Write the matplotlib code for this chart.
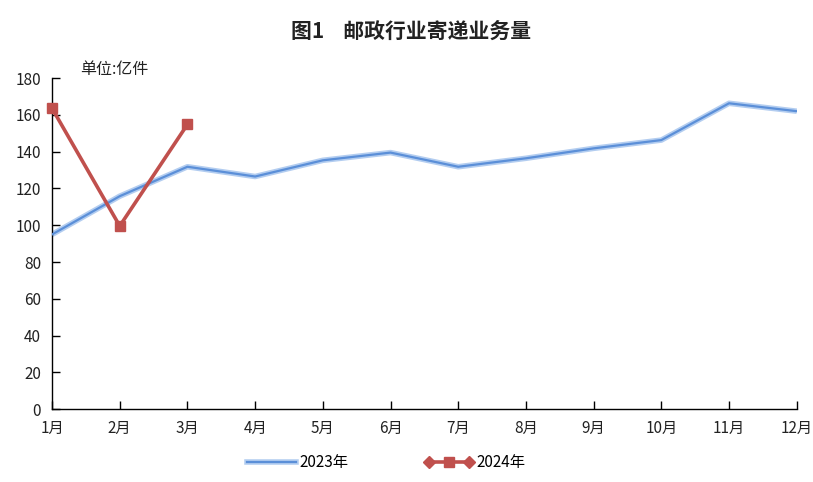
import matplotlib.pyplot as plt
from matplotlib.lines import Line2D
from matplotlib.legend_handler import HandlerLine2D, HandlerTuple

plt.rcParams['font.family'] = ['Noto Sans CJK SC', 'DejaVu Sans']

# 数据
months = ['1月', '2月', '3月', '4月', '5月', '6月', '7月', '8月', '9月', '10月', '11月', '12月']
vol_2023 = [95.0, 115.8, 131.8, 126.5, 135.3, 139.5, 131.8, 136.4, 141.8, 146.3, 166.3, 162.0]
vol_2024 = [163.6, 99.6, 154.8]
y_ticks = [0, 20, 40, 60, 80, 100, 120, 140, 160, 180]

fig = plt.figure(figsize=(8.13, 4.82), dpi=100)
ax = fig.add_axes([0.064, 0.151, 0.916, 0.687])

x = list(range(len(months)))
# 2023年 线条（浅色外沿 + 蓝色中线）
ax.plot(x, vol_2023, color='#b3cdf0', lw=4, solid_capstyle='butt', zorder=2)
ax.plot(x, vol_2023, color='#5b8fd8', lw=1.6, zorder=3)
# 2024年 线条
ax.plot(x[:len(vol_2024)], vol_2024, color='#c0504d', lw=2.6, marker='s',
        markersize=7, zorder=4, clip_on=False)

ax.set_xlim(0, len(months) - 1)
ax.set_ylim(0, 180)
ax.set_xticks(x)
ax.set_xticklabels(months)
ax.set_yticks(y_ticks)
ax.tick_params(direction='in', length=6, width=1, color='black', labelsize=11,
               labelcolor='#222222', pad=8)
ax.spines['top'].set_visible(False)
ax.spines['right'].set_visible(False)
for s in ['left', 'bottom']:
    ax.spines[s].set_color('black')
    ax.spines[s].set_linewidth(1)

fig.text(0.505, 0.935, '图1    邮政行业寄递业务量', ha='center', va='center',
         fontsize=15, fontweight='bold', color='#222222')
fig.text(0.098, 0.855, '单位:亿件', ha='left', va='center', fontsize=11.5, color='#222222')

# 图例
h23_a = Line2D([], [], color='#b3cdf0', lw=4)
h23_b = Line2D([], [], color='#5b8fd8', lw=1.6)
h24_line = Line2D([], [], color='#c0504d', lw=2.6, marker='D', markersize=6)
h24_sq = Line2D([], [], color='#c0504d', lw=0, marker='s', markersize=7)
leg = fig.legend([(h23_a, h23_b), (h24_line, h24_sq)], ['2023年', '2024年'],
                 handler_map={tuple: HandlerTuple(ndivide=1, pad=0),
                              h24_line: HandlerLine2D(numpoints=2),
                              h24_sq: HandlerLine2D(numpoints=1)},
                 loc='center', bbox_to_anchor=(0.475, 0.04), ncol=2, frameon=False,
                 fontsize=11, handlelength=3.2, handletextpad=0.2, columnspacing=5)

fig.savefig('out.png', dpi=100)
